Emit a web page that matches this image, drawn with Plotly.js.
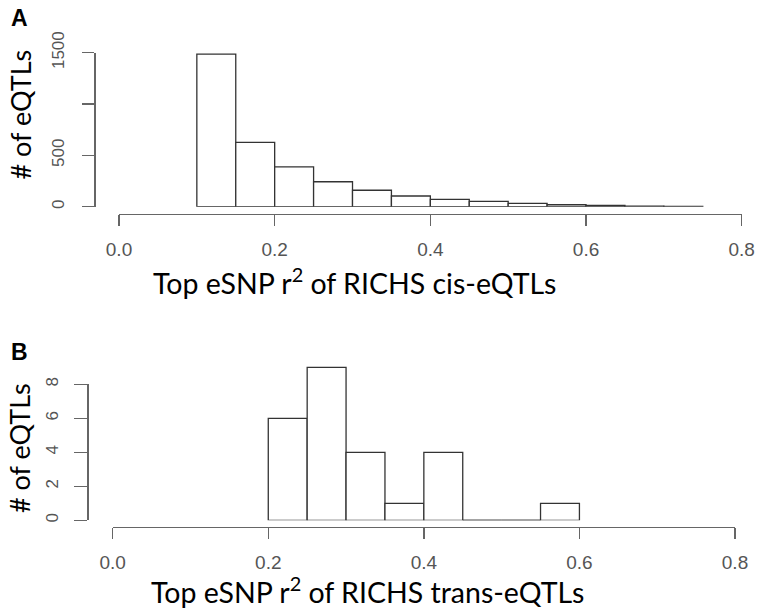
<!DOCTYPE html>
<html>
<head>
<meta charset="utf-8">
<script src="https://cdn.plot.ly/plotly-3.0.1.min.js"></script>
<style>html,body{margin:0;padding:0;background:#fff;}#chart{width:760px;height:614px;}</style>
</head>
<body>
<div id="chart"></div>
<script>
// Panel A: cis-eQTLs histogram (bin left edges, bin width 0.05)
const binLeftA = [0.10, 0.15, 0.20, 0.25, 0.30, 0.35, 0.40, 0.45, 0.50, 0.55, 0.60, 0.65, 0.70];
const countsA  = [1487, 627, 387, 243, 160, 104, 72, 52, 33, 19, 12, 5, 3];
// Panel B: trans-eQTLs histogram
const binLeftB = [0.20, 0.25, 0.30, 0.35, 0.40, 0.45, 0.50, 0.55];
const countsB  = [6, 9, 4, 1, 4, 0, 0, 1];
const binWidth = 0.05;

const xTickVals = [0, 0.2, 0.4, 0.6, 0.8];
const xTickText = ["0.0", "0.2", "0.4", "0.6", "0.8"];
const yTickValsA = [0, 500, 1500];
const yTickTextA = ["0", "500", "1500"];
const yMinorTicksA = [1000];
const yTickValsB = [0, 2, 4, 6, 8];
const yTickTextB = ["0", "2", "4", "6", "8"];

const titleA = "Top eSNP r<sup>2</sup> of RICHS cis-eQTLs";
const titleB = "Top eSNP r<sup>2</sup> of RICHS trans-eQTLs";
const yTitle = "# of eQTLs";

const W = 760, H = 614;
const px = v => v / W;
const py = v => 1 - v / H;

const barStyle = {color: "#ffffff", line: {color: "#333333", width: 1.3}};

function zeroSegments(lefts, counts) {
  const xs = [], ys = [];
  lefts.forEach((l, i) => {
    if (counts[i] === 0) { xs.push(l, l + binWidth, null); ys.push(0, 0, null); }
  });
  return {xs, ys};
}
const zB = zeroSegments(binLeftB, countsB);

const traces = [
  {type: "bar", x: binLeftA, y: countsA, width: binWidth, offset: 0,
   marker: barStyle, xaxis: "x", yaxis: "y", cliponaxis: false, hoverinfo: "skip"},
  {type: "bar", x: binLeftB, y: countsB, width: binWidth, offset: 0,
   marker: barStyle, xaxis: "x2", yaxis: "y2", cliponaxis: false, hoverinfo: "skip"},
  {type: "scatter", mode: "lines", x: zB.xs, y: zB.ys, xaxis: "x2", yaxis: "y2",
   line: {color: "#333333", width: 1.3}, cliponaxis: false, hoverinfo: "skip", connectgaps: false},
  // empty trace that registers the visible count axis of panel B
  {type: "scatter", mode: "lines", x: [], y: [], xaxis: "x2", yaxis: "y3", hoverinfo: "skip"}
];

const axisCommon = {
  showgrid: false, zeroline: false, showline: true, linecolor: "#666666", linewidth: 1.3,
  ticks: "outside", tickcolor: "#666666", tickwidth: 1.3, fixedrange: true
};
const tickFont = {family: "Liberation Sans, Arial, sans-serif", size: 19, color: "#555555"};
const yTickFont = {family: "Liberation Sans, Arial, sans-serif", size: 17, color: "#555555"};
const titleFont = {family: "Lato, Open Sans, sans-serif", size: 28.5, color: "#000"};
const panelFont = {family: "Liberation Sans, Arial, sans-serif", size: 23, color: "#000"};

const layout = {
  width: W, height: H,
  margin: {l: 0, r: 0, t: 0, b: 0},
  paper_bgcolor: "#ffffff", plot_bgcolor: "rgba(0,0,0,0)",
  showlegend: false, bargap: 0,
  xaxis: Object.assign({}, axisCommon, {
    domain: [px(119), px(741.7)], range: [0, 0.8], anchor: "free", position: py(213.5),
    tickmode: "array", tickvals: xTickVals, ticktext: xTickText, ticklen: 11,
    tickfont: tickFont, ticklabelstandoff: 7
  }),
  yaxis: Object.assign({}, axisCommon, {
    domain: [py(206.7), py(52.7)], range: [0, 1500], anchor: "free", position: px(94.3),
    tickmode: "array", tickvals: yTickValsA, ticktext: yTickTextA, ticklen: 12,
    minor: {tickmode: "array", tickvals: yMinorTicksA, ticks: "outside", ticklen: 12,
            tickcolor: "#666666", tickwidth: 1.3, showgrid: false},
    tickangle: -90, tickfont: yTickFont, ticklabelstandoff: 12
  }),
  xaxis2: Object.assign({}, axisCommon, {
    domain: [px(112.7), px(735)], range: [0, 0.8], anchor: "free", position: py(527),
    tickmode: "array", tickvals: xTickVals, ticktext: xTickText, ticklen: 11,
    tickfont: tickFont, ticklabelstandoff: 7
  }),
  // data axis for panel B (hidden), same scale as yaxis3 but taller so the tallest bar fits
  yaxis2: {
    visible: false, domain: [py(520.3), py(520.3 - 9.5 * 17)], range: [0, 9.5],
    anchor: "free", position: px(87.3), fixedrange: true, showgrid: false, zeroline: false
  },
  yaxis3: Object.assign({}, axisCommon, {
    domain: [py(520.3), py(384.3)], range: [0, 8], autorange: false, anchor: "free", position: px(87.3),
    tickmode: "array", tickvals: yTickValsB, ticktext: yTickTextB, ticklen: 13,
    tickangle: -90, tickfont: yTickFont, ticklabelstandoff: 10
  }),
  annotations: [
    {text: "<b>A</b>", xref: "paper", yref: "paper", x: px(19.5), y: py(17.5), xanchor: "center", yanchor: "middle",
     showarrow: false, font: panelFont},
    {text: "<b>B</b>", xref: "paper", yref: "paper", x: px(19.5), y: py(351.5), xanchor: "center", yanchor: "middle",
     showarrow: false, font: panelFont},
    {text: yTitle, xref: "paper", yref: "paper", x: px(20.5), y: py(115), xanchor: "center", yanchor: "middle",
     textangle: -90, showarrow: false, font: {family: "Lato, Open Sans, sans-serif", size: 27, color: "#000"}},
    {text: yTitle, xref: "paper", yref: "paper", x: px(19.5), y: py(448.5), xanchor: "center", yanchor: "middle",
     textangle: -90, showarrow: false, font: {family: "Lato, Open Sans, sans-serif", size: 27, color: "#000"}},
    {text: titleA, xref: "paper", yref: "paper", x: px(354), y: py(281), xanchor: "center", yanchor: "middle",
     showarrow: false, font: titleFont},
    {text: titleB, xref: "paper", yref: "paper", x: px(367.5), y: py(589.5), xanchor: "center", yanchor: "middle",
     showarrow: false, font: titleFont}
  ]
};

Plotly.newPlot("chart", traces, layout, {displayModeBar: false, staticPlot: true});
</script>
</body>
</html>
